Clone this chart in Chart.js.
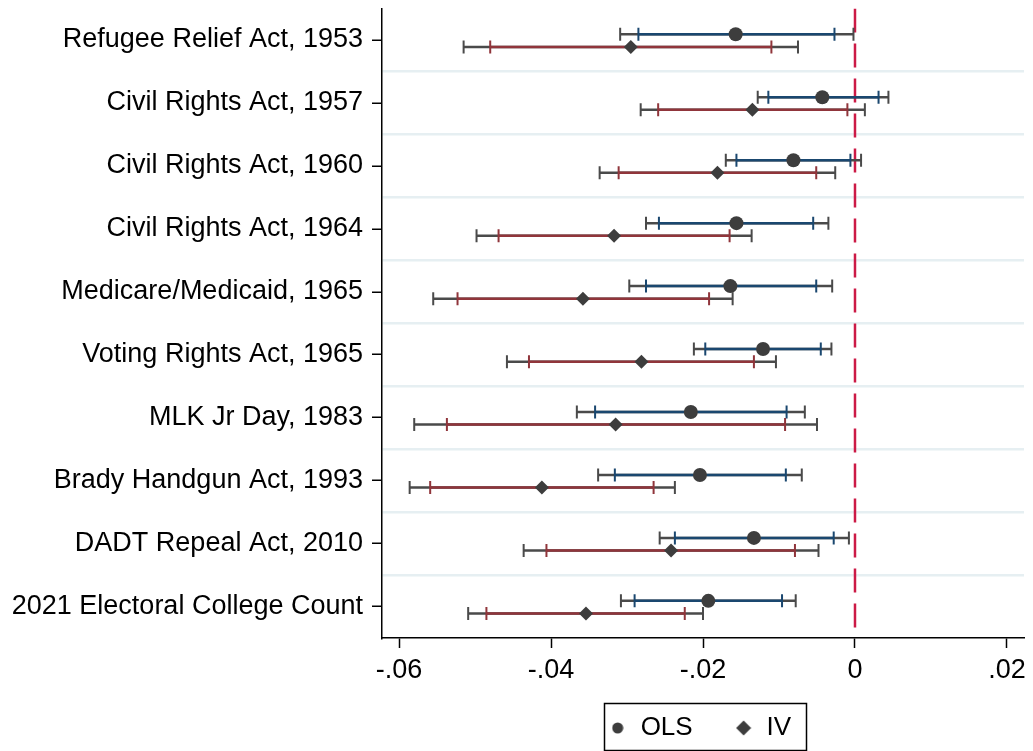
<!DOCTYPE html>
<html>
<head>
<meta charset="utf-8">
<script src="https://cdn.jsdelivr.net/npm/chart.js@4.4.1/dist/chart.umd.min.js"></script>
<style>
html,body{margin:0;padding:0;background:#fff;}
#wrap{width:1033px;height:751px;}
</style>
</head>
<body>
<div id="wrap"><canvas id="c" width="1033" height="751"></canvas></div>
<script>
// ---------- data ----------
const categories = [
  'Refugee Relief Act, 1953',
  'Civil Rights Act, 1957',
  'Civil Rights Act, 1960',
  'Civil Rights Act, 1964',
  'Medicare/Medicaid, 1965',
  'Voting Rights Act, 1965',
  'MLK Jr Day, 1983',
  'Brady Handgun Act, 1993',
  'DADT Repeal Act, 2010',
  '2021 Electoral College Count'
];
const olsCoef    = [-0.0157, -0.0043, -0.0081, -0.0156, -0.0164, -0.0121, -0.0216, -0.0204, -0.0133, -0.0193];
const olsInnerLo = [-0.0285, -0.0114, -0.0156, -0.0258, -0.0275, -0.0197, -0.0342, -0.0316, -0.0237, -0.0290];
const olsInnerHi = [-0.0027,  0.0031, -0.0006, -0.0055, -0.0051, -0.0045, -0.0090, -0.0091, -0.0028, -0.0096];
const olsOuterLo = [-0.0309, -0.0128, -0.0170, -0.0275, -0.0297, -0.0212, -0.0366, -0.0338, -0.0257, -0.0308];
const olsOuterHi = [-0.0002,  0.0044,  0.0008, -0.0035, -0.0030, -0.0031, -0.0066, -0.0070, -0.0008, -0.0078];

const ivCoef    = [-0.0295, -0.0135, -0.0181, -0.0317, -0.0358, -0.0281, -0.0315, -0.0412, -0.0242, -0.0354];
const ivInnerLo = [-0.0480, -0.0259, -0.0311, -0.0469, -0.0523, -0.0429, -0.0537, -0.0559, -0.0406, -0.0485];
const ivInnerHi = [-0.0110, -0.0010, -0.0051, -0.0165, -0.0192, -0.0133, -0.0092, -0.0265, -0.0079, -0.0224];
const ivOuterLo = [-0.0515, -0.0282, -0.0336, -0.0498, -0.0555, -0.0458, -0.0580, -0.0586, -0.0436, -0.0509];
const ivOuterHi = [-0.0075,  0.0013, -0.0026, -0.0136, -0.0161, -0.0104, -0.0050, -0.0237, -0.0048, -0.0200];

const xTickValues = [-0.06, -0.04, -0.02, 0, 0.02];
const xTickLabels = ['-.06', '-.04', '-.02', '0', '.02'];
const seriesNames = ['OLS', 'IV'];
const refValue = 0;

// ---------- styling ----------
const FONT = '"Liberation Sans", Arial, Helvetica, sans-serif';
const NAVY = '#1a476f';
const MAROON = '#90353b';
const CAPGRAY = '#4a4a4a';
const MARK = '#3d3d3d';
const OLS_OFF = -0.09, IV_OFF = 0.11;
const Y_MIN = -0.5, Y_MAX = categories.length - 0.5;
const LEG_FONT = 26, LEG_BOX = 20;

function segments(lo, hi, off) {
  const out = [];
  lo.forEach((l, i) => {
    out.push({x: l, y: i + off}, {x: hi[i], y: i + off}, {x: null, y: null});
  });
  return out;
}
function points(vals, off) { return vals.map((v, i) => ({x: v, y: i + off})); }

function makeIcon(kind) {
  const c = document.createElement('canvas');
  const s = kind === 'circle' ? 12 : 16;
  c.width = s; c.height = s;
  const g = c.getContext('2d');
  g.fillStyle = MARK;
  g.beginPath();
  if (kind === 'circle') {
    g.arc(s / 2, s / 2, 5.5, 0, Math.PI * 2);
  } else {
    g.moveTo(s / 2, 0.5); g.lineTo(s - 0.5, s / 2); g.lineTo(s / 2, s - 0.5); g.lineTo(0.5, s / 2);
    g.closePath();
  }
  g.fill();
  return c;
}

function ciDataset(lo, hi, off, color, lw, capW, order) {
  return {
    data: segments(lo, hi, off),
    showLine: true, spanGaps: false,
    borderColor: color, borderWidth: lw,
    pointStyle: 'line', pointRotation: 90, pointRadius: 6.5,
    pointBorderColor: color, pointBorderWidth: capW,
    pointBackgroundColor: color,
    order: order
  };
}

const datasets = [
  {
    data: [{x: refValue, y: Y_MIN}, {x: refValue, y: Y_MAX}],
    showLine: true, borderColor: '#cc1a46', borderWidth: 2.5, borderDash: [24, 11],
    pointRadius: 0, order: 10
  },
  ciDataset(olsOuterLo, olsOuterHi, OLS_OFF, CAPGRAY, 2.5, 2, 8),
  ciDataset(ivOuterLo, ivOuterHi, IV_OFF, CAPGRAY, 2.5, 2, 8),
  ciDataset(olsInnerLo, olsInnerHi, OLS_OFF, NAVY, 2.5, 2, 6),
  ciDataset(ivInnerLo, ivInnerHi, IV_OFF, MAROON, 2.5, 2, 6),
  {
    label: seriesNames[0], inLegend: true, legendText: seriesNames[0] + '    ', legendIcon: makeIcon('circle'),
    data: points(olsCoef, OLS_OFF), showLine: false,
    pointStyle: 'circle', pointRadius: 7, pointBackgroundColor: MARK, pointBorderWidth: 0, order: 1
  },
  {
    label: seriesNames[1], inLegend: true, legendText: seriesNames[1] + ' ', legendIcon: makeIcon('diamond'),
    data: points(ivCoef, IV_OFF), showLine: false,
    pointStyle: 'rectRot', pointRadius: 7, pointBackgroundColor: MARK, pointBorderWidth: 0, order: 1
  }
];

const legendBox = {
  id: 'legendBox',
  afterDraw(chart) {
    const lg = chart.legend;
    if (!lg || !lg.legendHitBoxes || !lg.legendHitBoxes.length) return;
    const hb = lg.legendHitBoxes;
    const items = lg.legendItems;
    const first = hb[0], last = hb[hb.length - 1];
    const ctx = chart.ctx;
    ctx.save();
    ctx.font = LEG_FONT + 'px ' + FONT;
    const lastTextW = ctx.measureText(items[items.length - 1].text.trim()).width;
    const cy = first.top + first.height / 2;
    const left = Math.round(first.left - 4);
    const right = Math.round(last.left + LEG_BOX + LEG_FONT / 2 + lastTextW + 15);
    ctx.strokeStyle = '#000';
    ctx.lineWidth = 1.5;
    ctx.strokeRect(left + 0.5, Math.round(cy - 25) + 0.5, right - left, 47);
    ctx.restore();
  }
};

const isInteriorBoundary = v => !Number.isInteger(v) && v > Y_MIN && v < Y_MAX;

new Chart(document.getElementById('c'), {
  type: 'scatter',
  data: {datasets},
  plugins: [legendBox],
  options: {
    responsive: false,
    animation: false,
    events: [],
    layout: {padding: {top: 8, left: 0, right: 9, bottom: 0}},
    scales: {
      x: {
        type: 'linear', position: 'bottom',
        min: -0.06224, max: 0.02224,
        afterBuildTicks: s => { s.ticks = xTickValues.map(v => ({value: v})); },
        afterFit: s => { s.height = 65; s.paddingLeft = 0; s.paddingRight = 0; },
        ticks: {
          callback: (v, i) => xTickLabels[i],
          font: {family: FONT, size: 27}, color: '#000', padding: 6,
          maxRotation: 0, autoSkip: false
        },
        grid: {drawOnChartArea: false, drawTicks: true, tickLength: 10, tickColor: '#000', tickWidth: 1.5},
        border: {display: true, color: '#000', width: 1.5}
      },
      y: {
        type: 'linear', position: 'left', reverse: true,
        min: Y_MIN, max: Y_MAX,
        afterBuildTicks: s => {
          const t = [];
          for (let v = Y_MIN; v <= Y_MAX + 1e-9; v += 0.5) t.push({value: v});
          s.ticks = t;
        },
        afterFit: s => { s.width = 382; s.paddingTop = 0; s.paddingBottom = 0; },
        ticks: {
          callback: v => (Number.isInteger(v) && v >= 0 && v < categories.length) ? categories[v] : '',
          font: {family: FONT, size: 27}, color: '#000', padding: 9, autoSkip: false
        },
        grid: {
          drawOnChartArea: true, drawTicks: true, tickLength: 10,
          color: c => isInteriorBoundary(c.tick.value) ? '#e6eff2' : 'rgba(0,0,0,0)',
          lineWidth: 2.5,
          tickColor: c => Number.isInteger(c.tick.value) ? '#000' : 'rgba(0,0,0,0)',
          tickWidth: 1.5
        },
        border: {display: true, color: '#000', width: 1.5}
      }
    },
    plugins: {
      tooltip: {enabled: false},
      legend: {
        position: 'bottom', fullSize: false,
        labels: {
          usePointStyle: true, boxWidth: LEG_BOX, boxHeight: LEG_BOX, padding: 12,
          font: {family: FONT, size: LEG_FONT}, color: '#000',
          generateLabels: chart => chart.data.datasets
            .map((ds, i) => ({ds, i}))
            .filter(o => o.ds.inLegend)
            .map(o => ({
              text: o.ds.legendText, fillStyle: MARK, strokeStyle: MARK, lineWidth: 0,
              pointStyle: o.ds.legendIcon, hidden: false, datasetIndex: o.i, fontColor: '#000'
            }))
        }
      }
    }
  }
});
</script>
</body>
</html>
